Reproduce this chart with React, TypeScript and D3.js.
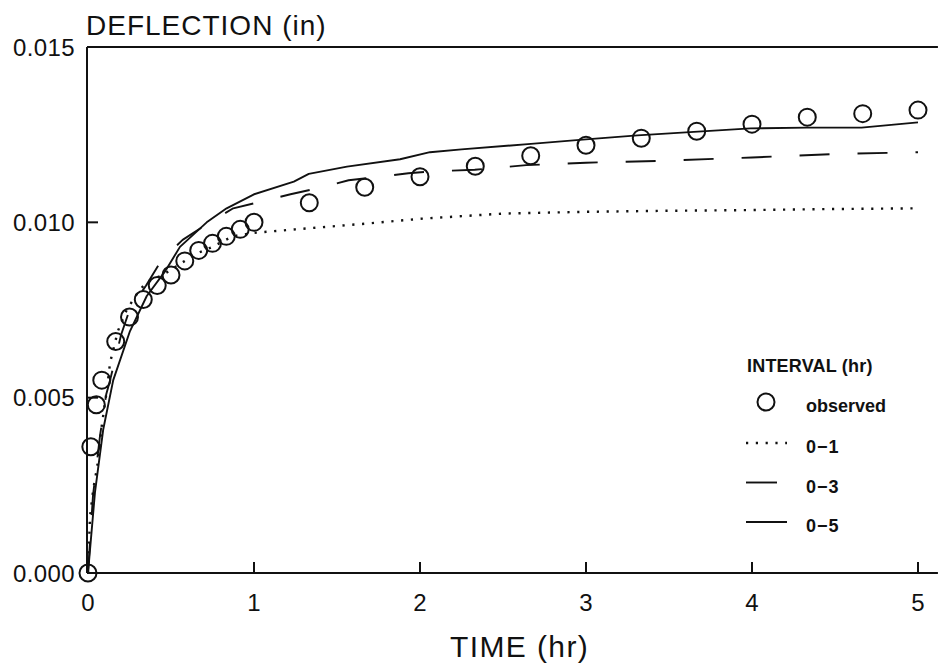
import React from 'react';
import * as d3 from 'd3';

// observed deflection (in) vs time (hr)
const obsTime = [0, 0.017, 0.05, 0.083, 0.167, 0.25, 0.333, 0.417, 0.5, 0.583, 0.667, 0.75, 0.833, 0.917, 1.0,
  1.333, 1.667, 2.0, 2.333, 2.667, 3.0, 3.333, 3.667, 4.0, 4.333, 4.667, 5.0];
const obsDefl = [0, 0.0036, 0.0048, 0.0055, 0.0066, 0.0073, 0.0078, 0.0082, 0.0085, 0.0089, 0.0092, 0.0094, 0.0096, 0.0098, 0.01,
  0.01056, 0.011, 0.0113, 0.0116, 0.0119, 0.0122, 0.0124, 0.0126, 0.0128, 0.013, 0.0131, 0.0132];

// fitted curves, interval 0-1 hr
const fit01Time = [0, 0.012, 0.032, 0.058, 0.083, 0.113, 0.133, 0.18, 0.233, 0.3, 0.354, 0.45, 0.55, 0.65, 0.75, 0.87, 1.0,
  1.25, 1.64, 2.0, 2.5, 3.0, 3.5, 4.0, 4.5, 5.0];
const fit01Defl = [0, 0.0016, 0.0024, 0.0031, 0.0042, 0.0052, 0.006, 0.0069, 0.0075, 0.008, 0.0083, 0.0085, 0.0088, 0.0091, 0.0093, 0.0096, 0.0097,
  0.0098, 0.00995, 0.0101, 0.01025, 0.0103, 0.01033, 0.01035, 0.01038, 0.0104];

// interval 0-3 hr
const fit03Time = [0, 0.03, 0.072, 0.11, 0.133, 0.2, 0.25, 0.35, 0.44, 0.57, 0.7, 0.875, 1.05, 1.22, 1.41, 1.57, 1.76, 1.93,
  2.06, 2.33, 2.64, 3.0, 3.5, 4.0, 4.5, 5.0];
const fit03Defl = [0, 0.0022, 0.0039, 0.0051, 0.0055, 0.0068, 0.0075, 0.0082, 0.0089, 0.0095, 0.0099, 0.0104, 0.0106, 0.0108, 0.011, 0.0112, 0.0113, 0.0114,
  0.01145, 0.0115, 0.01163, 0.0117, 0.01176, 0.01185, 0.01195, 0.012];

// interval 0-5 hr
const fit05Time = [0, 0.042, 0.092, 0.152, 0.253, 0.354, 0.464, 0.554, 0.715, 0.835, 1.0, 1.24, 1.33, 1.56, 1.88, 2.06, 2.25,
  2.65, 2.98, 3.31, 3.65, 3.99, 4.33, 4.66, 5.0];
const fit05Defl = [0, 0.0023, 0.0041, 0.0055, 0.0069, 0.0079, 0.0086, 0.0093, 0.01, 0.0104, 0.0108, 0.01116, 0.01138, 0.01159, 0.0118, 0.012, 0.01208,
  0.01223, 0.01236, 0.01248, 0.01258, 0.01268, 0.0127, 0.0127, 0.01285];

const xTicks = [0, 1, 2, 3, 4, 5];
const yTicks = [0, 0.005, 0.01, 0.015];
const yTickLabels = ['0.000', '0.005', '0.010', '0.015'];

const W = 939;
const H = 664;
const FONT = '"Liberation Sans", Arial, sans-serif';
const INK = '#111';

const pairs = (t: number[], v: number[]): [number, number][] => t.map((ti, i) => [ti, v[i]]);

export default function App() {
  const x = d3.scaleLinear().domain([0, 5]).range([88, 918]);
  const y = d3.scaleLinear().domain([0, 0.015]).range([573, 47]);
  const xEnd = x(5.12);

  const line = d3.line<[number, number]>()
    .x(d => x(d[0]))
    .y(d => y(d[1]));

  const fits = [
    { key: '01', label: '0\u22121', data: pairs(fit01Time, fit01Defl), dash: '2.2,7.6', width: 2.4 },
    { key: '03', label: '0\u22123', data: pairs(fit03Time, fit03Defl), dash: '30,28', width: 1.9 },
    { key: '05', label: '0\u22125', data: pairs(fit05Time, fit05Defl), dash: null, width: 1.9 },
  ];

  // legend layout
  const lgX = 746;
  const lgTextX = 806;

  return (
    <svg width={W} height={H} style={{ position: 'absolute', left: 0, top: 0, background: '#fff' }}>
      {/* title */}
      <text x={86} y={35} fontFamily={FONT} fontSize={28} letterSpacing={1} fill={INK}>DEFLECTION (in)</text>

      {/* frame: left, bottom, top */}
      <g stroke={INK} strokeWidth={2} fill="none">
        <line x1={x(0) - 1} x2={x(0) - 1} y1={y(0)} y2={y(0.015)} />
        <line x1={x(0) - 1} x2={xEnd} y1={y(0)} y2={y(0)} />
        <line x1={x(0) - 1} x2={xEnd} y1={y(0.015)} y2={y(0.015)} />
        {xTicks.slice(1).map(t => (
          <line key={t} x1={x(t)} x2={x(t)} y1={y(0)} y2={y(0) - 11} />
        ))}
        {yTicks.slice(1, 3).map(v => (
          <line key={v} x1={x(0)} x2={x(0) + 10} y1={y(v)} y2={y(v)} />
        ))}
      </g>

      {/* tick labels */}
      <g fontFamily={FONT} fontSize={24} fill={INK}>
        {xTicks.map(t => (
          <text key={t} x={x(t)} y={y(0) + 38} textAnchor="middle">{t}</text>
        ))}
        {yTicks.map((v, i) => (
          <text key={v} x={13} y={y(v) + 8.5} letterSpacing={0.4}>{yTickLabels[i]}</text>
        ))}
      </g>

      {/* axis title */}
      <text x={x(2.6)} y={657} textAnchor="middle" fontFamily={FONT} fontSize={30} letterSpacing={1.4} fill={INK}>TIME (hr)</text>

      {/* fitted curves */}
      <g fill="none" stroke={INK}>
        {fits.map(f => (
          <path key={f.key} d={line(f.data) ?? ''} strokeWidth={f.width}
            strokeDasharray={f.dash ?? undefined} strokeLinejoin="round" />
        ))}
      </g>

      {/* observed */}
      <g fill="none" stroke={INK} strokeWidth={2}>
        {obsTime.map((t, i) => (
          <circle key={i} cx={x(t)} cy={y(obsDefl[i])} r={8.5} />
        ))}
      </g>

      {/* legend */}
      <g fontFamily={FONT} fill={INK} fontWeight="bold">
        <text x={lgX + 1} y={372} fontSize={18} letterSpacing={0.2}>INTERVAL (hr)</text>
        <circle cx={766} cy={402} r={8.5} fill="none" stroke={INK} strokeWidth={2} />
        <text x={lgTextX} y={412} fontSize={18}>observed</text>
        {fits.map((f, i) => {
          const ly = 443 + i * 39.5;
          const len = f.key === '03' ? 31 : 41;
          return (
            <g key={f.key}>
              <line x1={lgX} x2={lgX + len} y1={ly} y2={ly} stroke={INK} strokeWidth={f.width}
                strokeDasharray={f.key === '01' ? f.dash ?? undefined : undefined} />
              <text x={lgTextX} y={ly + 10} fontSize={18} letterSpacing={1}>{f.label}</text>
            </g>
          );
        })}
      </g>
    </svg>
  );
}
